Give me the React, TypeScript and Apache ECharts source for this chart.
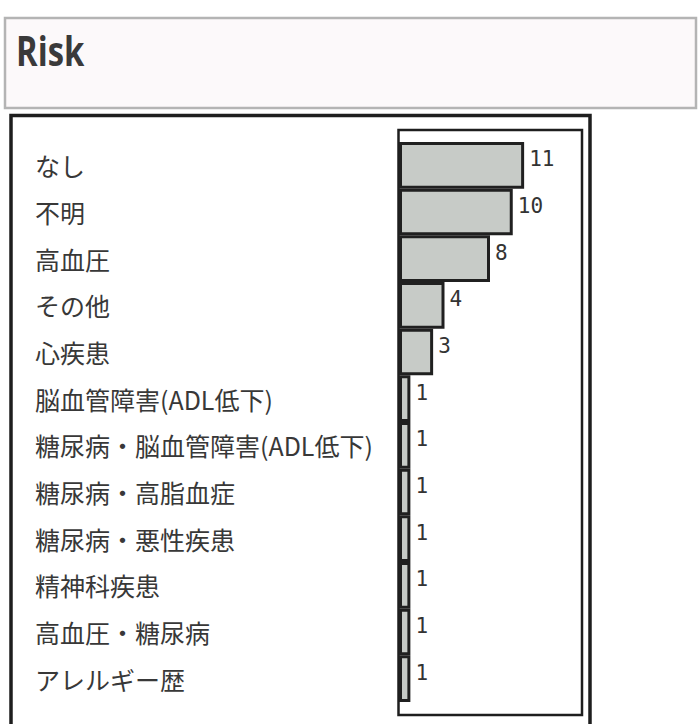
import React, { useEffect, useRef } from "react";
import * as echarts from "echarts";

const titleText = "Risk";
const categories = [
  "なし",
  "不明",
  "高血圧",
  "その他",
  "心疾患",
  "脳血管障害(ADL低下)",
  "糖尿病・脳血管障害(ADL低下)",
  "糖尿病・高脂血症",
  "糖尿病・悪性疾患",
  "精神科疾患",
  "高血圧・糖尿病",
  "アレルギー歴",
];
const counts = [11, 10, 8, 4, 3, 1, 1, 1, 1, 1, 1, 1];
const axisMax = 16;

export default function App() {
  const ref = useRef<HTMLDivElement>(null);
  useEffect(() => {
    if (!ref.current) return;
    const chart = echarts.init(ref.current, null, { renderer: "svg" });
    chart.setOption({
      animation: false,
      backgroundColor: "#ffffff",
      grid: { left: 399, right: 117, top: 142, bottom: 22, containLabel: false },
      xAxis: {
        type: "value",
        min: 0,
        max: axisMax,
        show: false,
      },
      yAxis: {
        type: "category",
        data: categories,
        inverse: true,
        axisLine: { show: false },
        axisTick: { show: false },
        splitLine: { show: false },
        axisLabel: {
          align: "left",
          margin: 364,
          fontSize: 25,
          color: "#383838",
          fontFamily: "'Noto Sans CJK JP', sans-serif",
        },
      },
      graphic: [
        {
          type: "rect",
          z: -10,
          shape: { x: 5, y: 18, width: 691, height: 90 },
          style: { fill: "#fcf9fa", stroke: "#b4b4b4", lineWidth: 2.5 },
        },
        {
          type: "text",
          z: -9,
          x: 16,
          y: 50,
          scaleX: 0.8,
          style: {
            text: titleText,
            fontSize: 41,
            fontWeight: "bold",
            fontFamily: "'Open Sans', sans-serif",
            fill: "#3a3a3a",
            verticalAlign: "middle",
          },
        },
        {
          type: "rect",
          z: -10,
          shape: { x: 11, y: 115.5, width: 579, height: 660 },
          style: { fill: "transparent", stroke: "#1e1e1e", lineWidth: 3.5 },
        },
        {
          type: "rect",
          z: -10,
          shape: { x: 398.5, y: 130, width: 183.5, height: 585 },
          style: { fill: "transparent", stroke: "#1e1e1e", lineWidth: 2.5 },
        },
      ],
      series: [
        {
          type: "bar",
          data: counts,
          barCategoryGap: "0%",
          itemStyle: {
            color: "#c7cbc7",
            borderColor: "#202020",
            borderWidth: 3,
          },
          label: {
            show: true,
            position: "right",
            distance: 5,
            offset: [0, -6],
            fontSize: 21,
            fontFamily: "'DejaVu Sans Mono', monospace",
            color: "#333333",
          },
        },
      ],
    });
    return () => chart.dispose();
  }, []);
  return <div ref={ref} style={{ width: 698, height: 724, position: "absolute", left: 0, top: 0 }} />;
}
